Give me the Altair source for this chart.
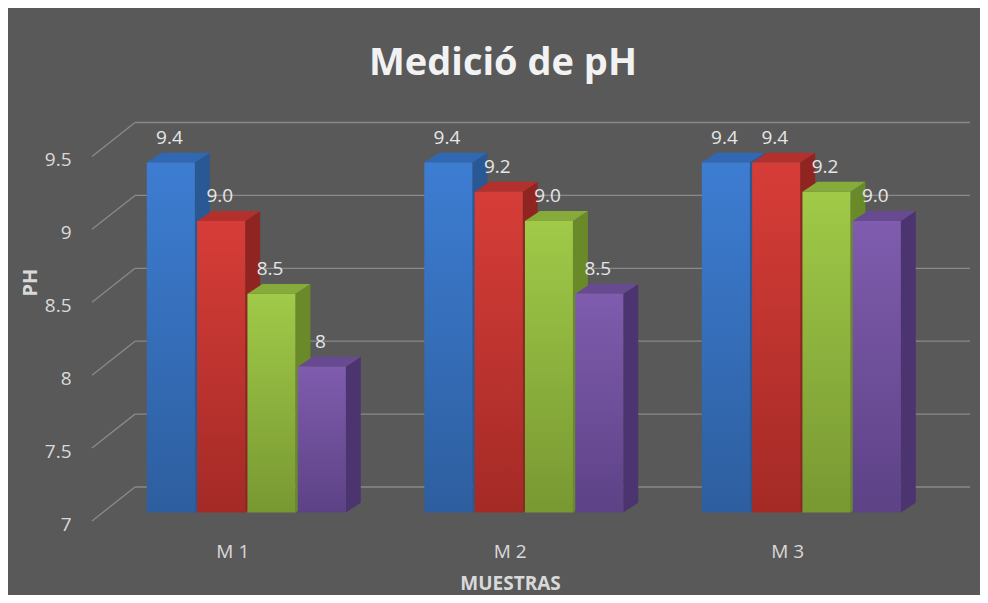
import altair as alt
import pandas as pd

# ---- data ----
categories = ["M 1", "M 2", "M 3"]
series = ["Serie 1", "Serie 2", "Serie 3", "Serie 4"]
blue_vals = [9.4, 9.4, 9.4]
red_vals = [9.0, 9.2, 9.4]
green_vals = [8.5, 9.0, 9.2]
purple_vals = [8.0, 8.5, 9.0]
blue_lbl = ["9.4", "9.4", "9.4"]
red_lbl = ["9.0", "9.2", "9.4"]
green_lbl = ["8.5", "9.0", "9.2"]
purple_lbl = ["8", "8.5", "9.0"]
y_ticks = [7, 7.5, 8, 8.5, 9, 9.5]

values = [blue_vals, red_vals, green_vals, purple_vals]
labels = [blue_lbl, red_lbl, green_lbl, purple_lbl]

# ---- style ----
BG = "#595959"
front_top = ["#3d7dd2", "#d73d38", "#a0ca48", "#7f5cae"]
front_bot = ["#2d5e9f", "#a42a26", "#789832", "#5d4286"]
side_col = ["#2a5894", "#8f2421", "#6a8a29", "#4b3470"]
top_col = ["#3068b3", "#b3302c", "#87ab3b", "#684a93"]

# 3D look constants (in scale units)
X_MIN, X_MAX = -0.556, 2.608
Y_MIN, Y_MAX = 7, 9.75
STEP, BW = 0.1813, 0.173
BAR_Z = 0.058      # bars sit a bit behind the front plane
BAR_DX, BAR_DY = 0.054, 0.068
GRID_DX, GRID_DY = 0.155, 0.233

xs = alt.Scale(domain=[X_MIN, X_MAX], nice=False, zero=False)
ys = alt.Scale(domain=[Y_MIN, Y_MAX], nice=False, zero=False)

# ---- build tables ----
rows, side_rows, top_rows = [], [], []
for g, cat in enumerate(categories):
    for i, s in enumerate(series):
        v = values[i][g]
        x0 = g - 2 * STEP + (STEP - BW) / 2 + i * STEP
        x1 = x0 + BW
        base = Y_MIN + BAR_Z
        top = v + BAR_Z
        bid = f"{g}-{i}"
        rows.append(dict(bar=bid, s=s, cat=cat, x0=x0, x1=x1, xc=(x0 + x1) / 2 - 0.005,
                         base=base, top=top, lab_y=top + BAR_DY, lab=labels[i][g]))
        side_rows += [dict(bar=bid, s=s, x=x1, lo=base, hi=top),
                      dict(bar=bid, s=s, x=x1 + BAR_DX, lo=base + BAR_DY, hi=top + BAR_DY)]
        top_rows += [dict(bar=bid, s=s, x=x0, lo=top, hi=top),
                     dict(bar=bid, s=s, x=x0 + BAR_DX, lo=top, hi=top + BAR_DY),
                     dict(bar=bid, s=s, x=x1, lo=top, hi=top + BAR_DY),
                     dict(bar=bid, s=s, x=x1 + BAR_DX, lo=top + BAR_DY, hi=top + BAR_DY)]
bars = pd.DataFrame(rows)
sides = pd.DataFrame(side_rows)
tops = pd.DataFrame(top_rows)

grid = pd.DataFrame(dict(v=y_ticks))
grid["xa"] = X_MIN
grid["xb"] = X_MIN + GRID_DX
grid["xe"] = X_MAX
grid["vb"] = grid["v"] + GRID_DY

LBL = "#d9d9d9"
FONT = "Open Sans"

x_axis = alt.Axis(
    values=[0, 1, 2], labelExpr="'M ' + (datum.value + 1)", grid=False, ticks=False,
    domain=False, labelFontSize=19, labelColor=LBL, labelFont=FONT, labelPadding=21,
    labelOffset=-14, title="MUESTRAS", titleFontSize=19, titleFont=FONT, titleFontWeight="bold",
    titleColor=LBL, titleX=418, titleY=62, titleBaseline="middle")
y_axis = alt.Axis(
    values=y_ticks, format="~g", grid=False, ticks=False, domain=False, labelFontSize=19,
    labelColor=LBL, labelFont=FONT, labelPadding=21, labelOffset=3,
    title="PH", titleFontSize=20, titleFont=FONT, titleFontWeight="bold", titleColor=LBL,
    titleX=-62, titleY=162, titleAngle=270, titleAlign="center", titleBaseline="middle")


def X(field):
    return alt.X(field, scale=xs, axis=x_axis)


def Y(field):
    return alt.Y(field, scale=ys, axis=y_axis)


# gridlines (diagonal + back horizontal)
diag = alt.Chart(grid).mark_rule(color="#8a8a8a", strokeWidth=1.3).encode(
    x=X("xa:Q"), x2="xb:Q", y=Y("v:Q"), y2="vb:Q")
horiz = alt.Chart(grid).mark_rule(color="#8a8a8a", strokeWidth=1.3).encode(
    x=X("xb:Q"), x2="xe:Q", y=Y("vb:Q"))

side_layers, top_layers, front_layers = [], [], []
for i, s in enumerate(series):
    side_layers.append(alt.Chart(sides).transform_filter(alt.datum.s == s).mark_area(
        color=side_col[i], interpolate="linear").encode(
        x=X("x:Q"), y=Y("lo:Q"), y2="hi:Q", detail="bar:N"))
    top_layers.append(alt.Chart(tops).transform_filter(alt.datum.s == s).mark_area(
        color=top_col[i], interpolate="linear").encode(
        x=X("x:Q"), y=Y("lo:Q"), y2="hi:Q", detail="bar:N"))
    grad = alt.LinearGradient(gradient="linear", x1=0, x2=0, y1=0, y2=1, stops=[
        alt.GradientStop(color=front_top[i], offset=0),
        alt.GradientStop(color=front_bot[i], offset=1)])
    front_layers.append(alt.Chart(bars).transform_filter(alt.datum.s == s).mark_rect(
        fill=grad).encode(
        x=X("x0:Q"), x2="x1:Q", y=Y("base:Q"), y2="top:Q"))

text = alt.Chart(bars).mark_text(
    color="#e6e6e6", fontSize=19, font=FONT, baseline="middle", dy=-15).encode(
    x=X("xc:Q"), y=Y("lab_y:Q"), text="lab:N")

chart = alt.layer(diag, horiz, *side_layers, *top_layers, *front_layers, text).properties(
    width=878, height=401,
    padding={"left": 84, "top": 112, "right": 10, "bottom": 74},
    autosize=alt.AutoSizeParams(type="none"),
    title=alt.TitleParams("Medició de pH", fontSize=38, font=FONT, fontWeight="bold",
                          color="#f2f2f2", anchor="middle", dx=-28, offset=37),
).configure(background=BG).configure_view(stroke=None)

chart.save("out.html", embed_options={"renderer": "svg", "actions": False})
